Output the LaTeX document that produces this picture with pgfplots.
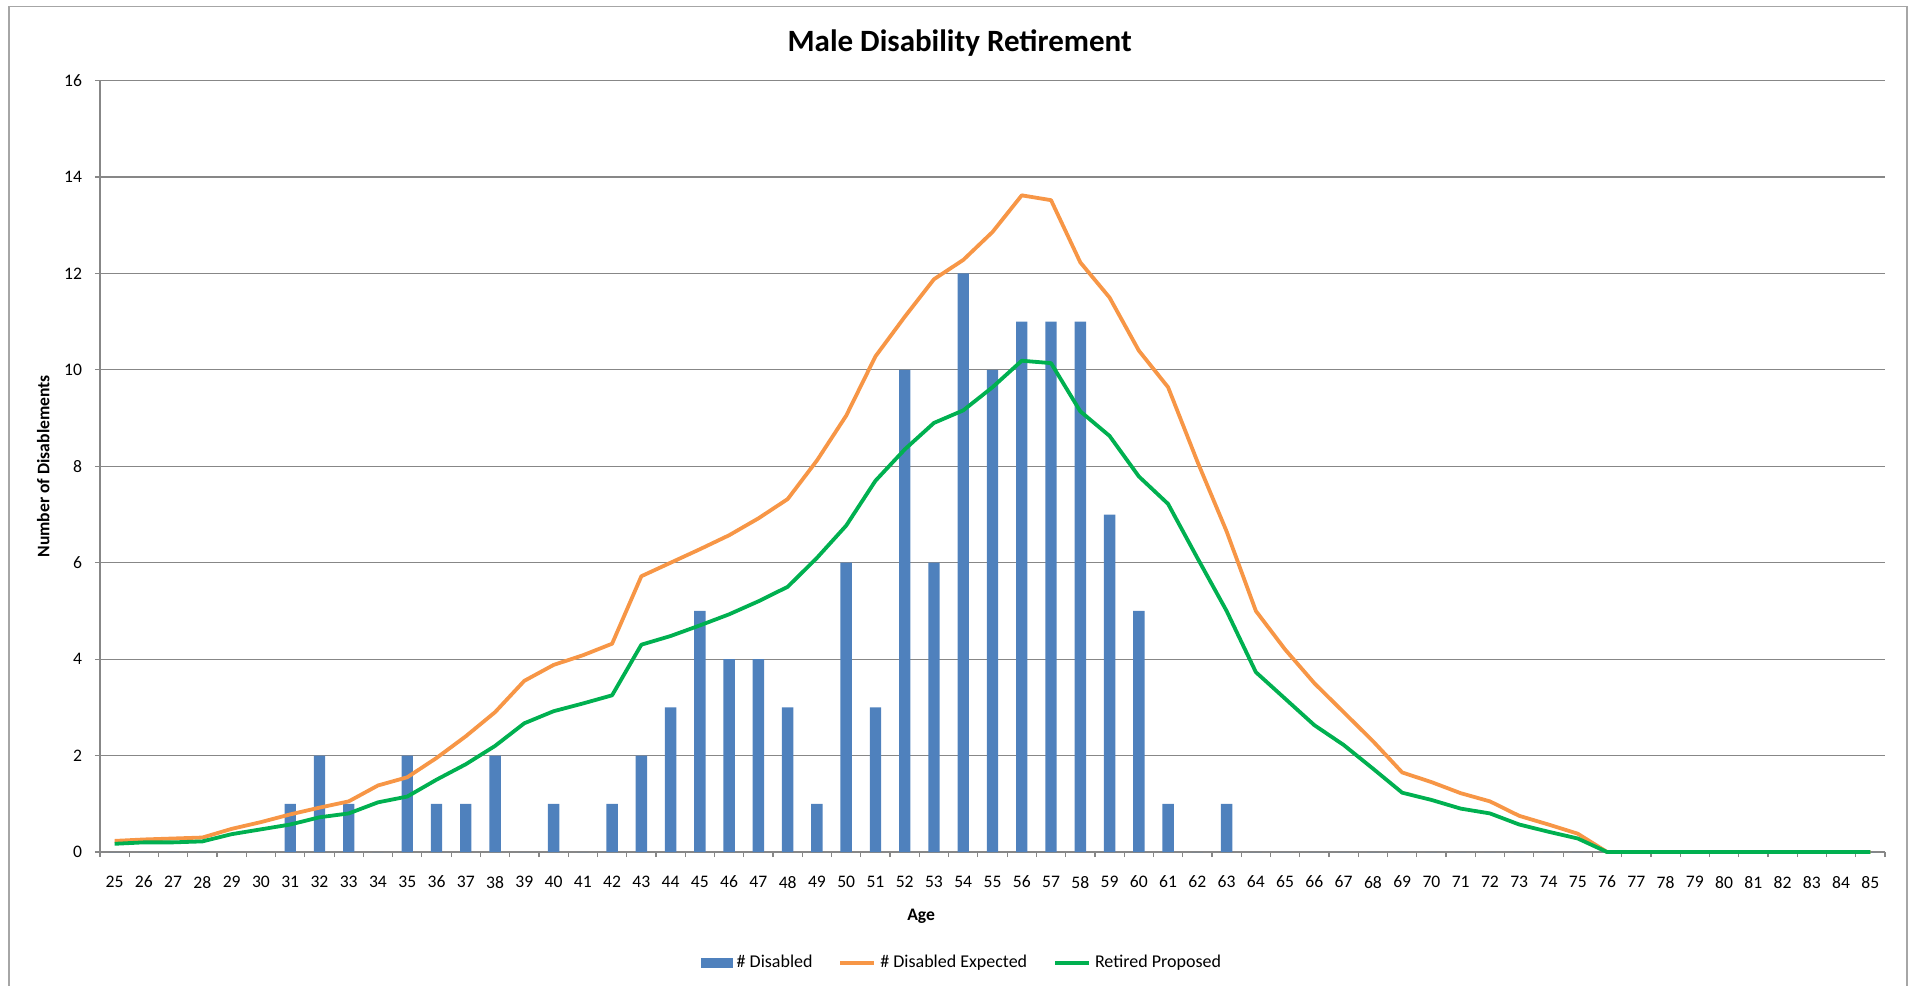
\documentclass[border=0pt]{standalone}
\usepackage{pgfplots}
\pgfplotsset{compat=1.18}
\usepackage{fontspec}
\setmainfont{Carlito}
\definecolor{barblue}{HTML}{4F81BD}
\definecolor{exporange}{HTML}{F79646}
\definecolor{propgreen}{HTML}{00B050}
\definecolor{gridgray}{HTML}{878787}
\definecolor{bordergray}{HTML}{A6A6A6}
\begin{document}
\begin{tikzpicture}
\path[use as bounding box] (-50pt,-66.5pt) rectangle (907pt,426pt);
\draw[bordergray, line width=0.8pt] (-45.5pt,-70pt) -- (-45.5pt,422.75pt) -- (903.5pt,422.75pt) -- (903.5pt,-70pt);
\begin{axis}[
  at={(0,0)}, anchor=south west,
  width=892.5pt, height=385.7pt, scale only axis,
  xmin=24.5, xmax=85.5, ymin=0, ymax=16,
  clip=false,
  xtick={25,...,85},
  minor xtick={24.5,25.5,...,85.5},
  ytick={0,2,...,16},
  minor ytick={0,2,...,16},
  major tick length=0pt, minor tick length=2.6pt,
  tick align=outside,
  every tick/.style={gridgray, line width=0.6pt},
  ymajorgrids, major grid style={gridgray, line width=0.6pt},
  axis x line*=bottom, axis y line*=left,
  axis line style={-, gridgray, line width=0.7pt},
  /pgf/number format/assume math mode=true,
  tick label style={font=\fontsize{8.8}{10}\selectfont},
  xticklabel style={yshift=-8.5pt},
  yticklabel style={xshift=-5.5pt},
  title={Male Disability Retirement},
  title style={font=\fontsize{15.5}{18}\selectfont\bfseries, at={(axis description cs:0.4816,1.033)}, anchor=center},
  xlabel={Age},
  xlabel style={font=\fontsize{8.8}{10}\selectfont\bfseries, at={(axis description cs:0.46,-0.083)}, anchor=center},
  ylabel={Number of Disablements},
  ylabel style={font=\fontsize{8.8}{10}\selectfont\bfseries, at={(axis description cs:-0.0318,0.5)}, anchor=center, rotate=0},
  legend columns=3,
  legend style={draw=none, fill=none, at={(axis description cs:0.4834,-0.1435)}, anchor=center,
    font=\fontsize{9}{10}\selectfont,
    /tikz/every even column/.append style={column sep=11pt},
    legend cell align=left, inner sep=0pt},
]
\addplot[ybar, bar width=0.39, fill=barblue, draw=none,
  legend image code/.code={\fill[barblue] (0pt,-2.5pt) rectangle (16pt,2.5pt);}]
coordinates {
(25,0)(26,0)(27,0)(28,0)(29,0)(30,0)(31,1)(32,2)(33,1)(34,0)
(35,2)(36,1)(37,1)(38,2)(39,0)(40,1)(41,0)(42,1)(43,2)(44,3)
(45,5)(46,4)(47,4)(48,3)(49,1)(50,6)(51,3)(52,10)(53,6)(54,12)
(55,10)(56,11)(57,11)(58,11)(59,7)(60,5)(61,1)(62,0)(63,1)(64,0)
(65,0)(66,0)(67,0)(68,0)(69,0)(70,0)(71,0)(72,0)(73,0)(74,0)
(75,0)(76,0)(77,0)(78,0)(79,0)(80,0)(81,0)(82,0)(83,0)(84,0)(85,0)
};
\addlegendentry{\# Disabled}
\addplot[exporange, line width=1.9pt, mark=none, line join=round,
  legend image code/.code={\draw[exporange, line width=1.9pt] (0pt,0pt) -- (17pt,0pt);}]
coordinates {
(25,0.23)(26,0.26)(27,0.28)(28,0.30)(29,0.48)(30,0.62)(31,0.78)(32,0.92)(33,1.05)(34,1.38)
(35,1.55)(36,1.95)(37,2.40)(38,2.90)(39,3.55)(40,3.88)(41,4.08)(42,4.32)(43,5.72)(44,6.00)
(45,6.28)(46,6.57)(47,6.92)(48,7.32)(49,8.12)(50,9.05)(51,10.28)(52,11.10)(53,11.88)(54,12.28)
(55,12.86)(56,13.62)(57,13.52)(58,12.23)(59,11.50)(60,10.40)(61,9.64)(62,8.10)(63,6.65)(64,5.00)
(65,4.20)(66,3.50)(67,2.90)(68,2.30)(69,1.65)(70,1.45)(71,1.22)(72,1.05)(73,0.75)(74,0.57)
(75,0.38)(76,0)(77,0)(78,0)(79,0)(80,0)(81,0)(82,0)(83,0)(84,0)(85,0)
};
\addlegendentry{\# Disabled Expected}
\addplot[propgreen, line width=1.9pt, mark=none, line join=round,
  legend image code/.code={\draw[propgreen, line width=1.9pt] (0pt,0pt) -- (17pt,0pt);}]
coordinates {
(25,0.17)(26,0.20)(27,0.20)(28,0.22)(29,0.37)(30,0.47)(31,0.57)(32,0.72)(33,0.80)(34,1.03)
(35,1.15)(36,1.50)(37,1.82)(38,2.20)(39,2.67)(40,2.92)(41,3.08)(42,3.25)(43,4.30)(44,4.48)
(45,4.70)(46,4.93)(47,5.20)(48,5.50)(49,6.10)(50,6.77)(51,7.70)(52,8.35)(53,8.90)(54,9.16)
(55,9.64)(56,10.19)(57,10.14)(58,9.14)(59,8.63)(60,7.79)(61,7.22)(62,6.10)(63,5.00)(64,3.73)
(65,3.18)(66,2.63)(67,2.22)(68,1.73)(69,1.23)(70,1.08)(71,0.90)(72,0.80)(73,0.57)(74,0.42)
(75,0.28)(76,0)(77,0)(78,0)(79,0)(80,0)(81,0)(82,0)(83,0)(84,0)(85,0)
};
\addlegendentry{Retired Proposed}
\end{axis}
\end{tikzpicture}
\end{document}
